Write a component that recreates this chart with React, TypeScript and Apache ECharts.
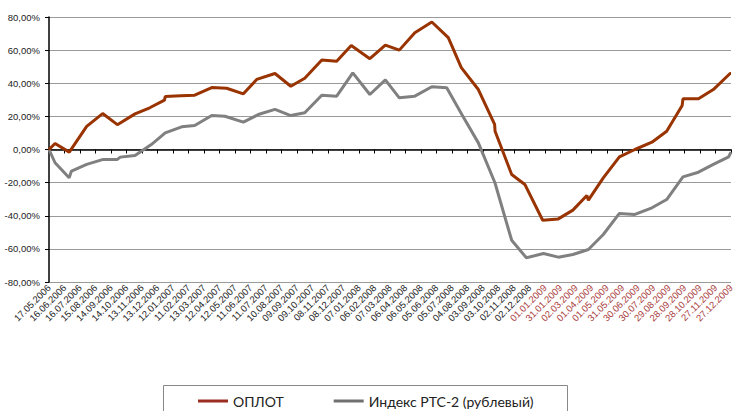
import React, { useEffect, useRef } from "react";
import * as echarts from "echarts";

const tickLabels: string[] = [
  "17.05.2006", "16.06.2006", "16.07.2006", "15.08.2006", "14.09.2006", "14.10.2006",
  "13.11.2006", "13.12.2006", "12.01.2007", "11.02.2007", "13.03.2007", "12.04.2007",
  "12.05.2007", "11.06.2007", "11.07.2007", "10.08.2007", "09.09.2007", "09.10.2007",
  "08.11.2007", "08.12.2007", "07.01.2008", "06.02.2008", "07.03.2008", "06.04.2008",
  "06.05.2008", "05.06.2008", "05.07.2008", "04.08.2008", "03.09.2008", "03.10.2008",
  "02.11.2008", "02.12.2008", "01.01.2009", "31.01.2009", "02.03.2009", "01.04.2009",
  "01.05.2009", "31.05.2009", "30.06.2009", "30.07.2009", "29.08.2009", "28.09.2009",
  "28.10.2009", "27.11.2009", "27.12.2009",
];

// position on the date axis, in units of tick intervals (≈30 days) since 17.05.2006
const oplotX: number[] = [
  0, 0.39, 1.31, 2.43, 3.46, 4.41, 5.55, 6.5, 7.45, 7.5, 8.5, 9.4, 10.5, 11.46, 12.54, 13.4,
  14.58, 15.6, 16.5, 17.6, 18.56, 19.5, 20.7, 21.7, 22.6, 23.6, 24.7, 25.76, 26.6, 27.7,
  28.75, 28.78, 29.85, 30.7, 31.85, 32.86, 33.8, 34.7, 34.8, 35.76, 36.8, 37.8, 38.9, 39.85,
  40.85, 40.9, 41.9, 42.86, 43.94, 44,
];
const oplotY: number[] = [
  0, 3.6, -1.6, 14, 21.7, 15, 21.5, 25.2, 29.8, 32, 32.5, 32.8, 37.4, 37, 33.6, 42.3,
  45.9, 38.2, 43, 54, 53.3, 62.8, 54.8, 63, 60, 70.5, 77, 67.5, 49.4, 36.2,
  15.1, 11, -15.1, -21.1, -42.7, -41.9, -36.6, -27.8, -30.6, -17.1, -4.4, 0, 4.4, 11,
  26.6, 30.6, 30.6, 36.2, 45.9, 45.9,
];

const rtsX: number[] = [
  0, 0.39, 1.3, 1.45, 2.43, 3.5, 4.41, 4.6, 5.55, 6.6, 7.5, 8.56, 9.4, 10.5, 11.35, 12.54,
  13.5, 14.58, 15.6, 16.5, 17.6, 18.56, 19.6, 20.7, 21.7, 22.6, 23.6, 24.7, 25.66, 26.7,
  27.7, 28.77, 29.85, 30.8, 31.9, 32.86, 33.8, 34.8, 35.76, 36.8, 37.8, 38.9, 39.85, 40.9,
  41.9, 42.86, 43.85, 44,
];
const rtsY: number[] = [
  0, -8, -17, -13, -9, -6, -6, -4.6, -3.6, 3, 10, 13.7, 14.5, 20.5, 20.1, 16.5,
  21.1, 24.2, 20.5, 22.2, 32.8, 32.2, 46.3, 33.2, 42, 31.2, 32.2, 37.9, 37.3, 20.1,
  4, -20.1, -54.8, -65.4, -62.8, -65, -63.4, -60.4, -51.3, -38.6, -39.2, -35.2, -30.2, -16.5,
  -13.7, -9, -4.4, -1.6,
];

const seriesNames = ["ОПЛОТ", "Индекс РТС-2 (рублевый)"];

export default function App() {
  const ref = useRef<HTMLDivElement>(null);
  useEffect(() => {
    if (!ref.current) return;
    const chart = echarts.init(ref.current, undefined, { renderer: "svg" });
    chart.setOption({
      animation: false,
      backgroundColor: "#ffffff",
      grid: { left: 49, right: 6, top: 17, bottom: 129, containLabel: false },
      xAxis: {
        type: "value",
        min: 0,
        max: 44,
        interval: 1,
        axisLine: { show: true, lineStyle: { color: "#000", width: 1.5 } },
        axisTick: { show: true, length: 4, lineStyle: { color: "#000" } },
        splitLine: { show: false },
        axisLabel: {
          rotate: 45,
          margin: 4,
          fontSize: 9.5,
          fontFamily: "Liberation Sans",
          formatter: (v: number) => tickLabels[Math.round(v)] ?? "",
          color: (v: number) => (Math.round(v) >= 32 ? "#a83c3c" : "#222222"),
          showMinLabel: true,
          showMaxLabel: true,
        },
      },
      yAxis: {
        type: "value",
        min: -80,
        max: 80,
        interval: 20,
        axisLine: { show: true, lineStyle: { color: "#000", width: 1.5 } },
        axisTick: { show: true, length: 4, lineStyle: { color: "#000" } },
        splitLine: { show: true, lineStyle: { color: "#9a9a9a", width: 1.2 } },
        axisLabel: {
          margin: 9,
          fontSize: 9.5,
          fontFamily: "Liberation Sans",
          color: "#222",
          formatter: (v: number) => v.toFixed(2).replace(".", ",") + "%",
        },
      },
      legend: {
        left: 193,
        top: 389,
        itemWidth: 30,
        itemHeight: 3,
        itemGap: 50,
        icon: "rect",
        textStyle: { fontSize: 14, fontFamily: "Lato", color: "#222" },
        data: seriesNames,
      },
      graphic: [
        {
          type: "rect",
          shape: { x: 163.5, y: 385.5, width: 404, height: 40 },
          style: { fill: "none", stroke: "#888", lineWidth: 1 },
          z: -1,
        },
      ],
      series: [
        {
          name: seriesNames[1],
          type: "line",
          symbol: "none",
          lineStyle: { color: "#808080", width: 3 },
          itemStyle: { color: "#707070" },
          data: rtsX.map((x, i) => [x, rtsY[i]]),
        },
        {
          name: seriesNames[0],
          type: "line",
          symbol: "none",
          lineStyle: { color: "#993300", width: 3 },
          itemStyle: { color: "#9b2d20" },
          data: oplotX.map((x, i) => [x, oplotY[i]]),
        },
      ],
    });
    return () => chart.dispose();
  }, []);
  return <div ref={ref} style={{ width: 737, height: 411, position: "absolute", left: 0, top: 0 }} />;
}
